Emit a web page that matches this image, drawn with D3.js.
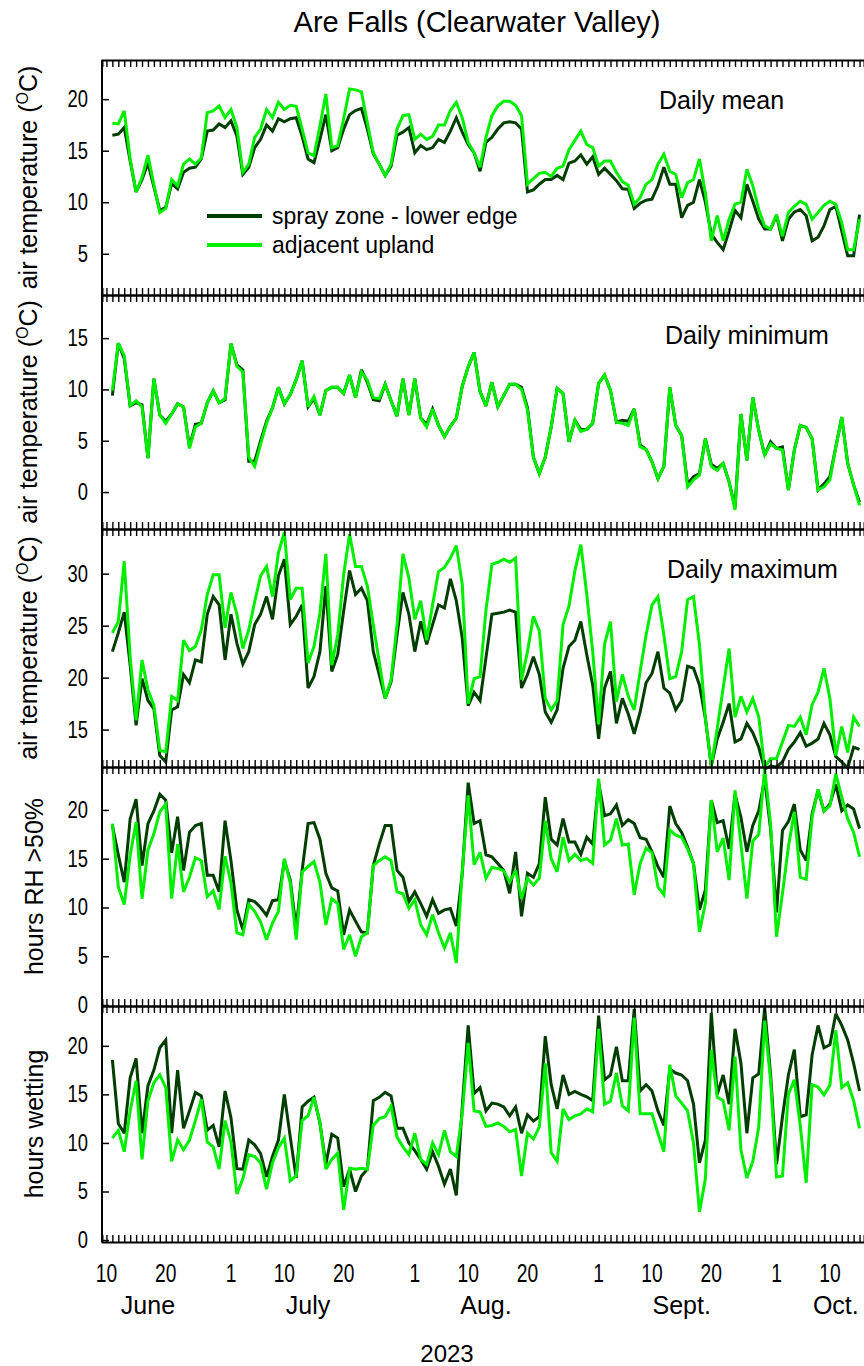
<!DOCTYPE html>
<html><head><meta charset="utf-8">
<script src="https://cdn.jsdelivr.net/npm/d3@7"></script>
<style>
body{margin:0;background:#fff}
svg{display:block}
text{font-family:"Liberation Sans",Arial,sans-serif;fill:#000}
</style>
</head><body>
<svg id="c" width="864" height="1366"></svg>
<script>
// ---------------- DATA ----------------
const firstDay = "2023-06-11";           // first daily value
const seriesNames = ["spray zone - lower edge", "adjacent upland"];

const meanSpray = [16.5,16.6,17.25,14.0,11.0,12.2,13.8,11.5,9.2,9.5,11.8,11.3,12.9,13.3,13.4,14.2,16.9,17.0,17.6,17.25,17.9,16.4,12.7,13.4,15.3,16.1,17.5,16.9,18.1,17.8,18.1,18.2,16.4,14.2,13.85,16.1,18.5,15.0,15.3,17.1,18.5,18.9,19.1,17.1,14.7,13.7,12.6,13.5,16.5,16.8,17.25,14.8,15.5,15.1,15.3,16.1,15.8,16.9,18.2,16.8,15.6,14.8,13.0,15.8,16.3,17.1,17.7,17.8,17.7,17.1,11.0,11.2,11.75,12.2,12.2,12.6,12.2,13.8,14.0,14.6,13.7,14.4,12.7,13.3,12.7,12.1,11.3,11.25,9.4,9.9,10.2,10.3,11.6,13.4,11.75,11.75,8.5,9.7,10.0,12.2,10.0,6.9,6.1,5.4,7.2,9.2,8.5,11.75,10.1,8.35,7.4,7.4,8.7,6.25,8.35,9.05,9.3,8.7,6.25,6.6,7.7,9.3,9.6,7.2,4.8,4.8,8.8];
const meanUpland = [17.67,17.6,18.87,14.2,11.0,12.4,14.56,11.7,9.0,9.4,12.2,11.6,13.7,14.2,13.7,14.3,18.7,18.87,19.35,18.2,19.0,17.25,12.9,13.7,16.3,17.1,19.0,18.2,19.7,19.0,19.4,19.3,17.1,14.8,14.5,17.4,20.5,15.3,15.5,18.1,21.0,20.9,20.7,17.7,14.8,13.7,12.6,13.7,17.1,18.4,18.5,16.1,16.6,16.1,16.4,17.5,17.5,18.9,19.7,18.2,15.8,14.8,13.4,16.3,18.4,19.35,19.8,19.8,19.4,18.4,11.75,12.3,12.8,12.9,12.5,13.3,13.5,15.1,16.0,16.9,15.6,15.3,13.5,14.0,14.0,12.9,12.0,11.65,9.8,10.45,11.75,12.2,13.7,14.65,13.0,12.7,10.45,11.9,12.2,14.2,10.9,6.25,8.7,6.25,8.35,9.8,10.0,13.2,11.6,9.3,7.7,7.4,8.8,6.7,9.0,9.6,10.1,9.8,8.35,9.0,9.7,10.1,9.8,8.0,5.4,5.4,8.35];

const minSpray = [9.4,14.5,13.0,8.4,8.7,8.5,3.3,11.05,7.5,6.9,7.6,8.6,8.3,4.4,6.6,6.7,8.7,9.85,8.7,9.0,14.45,12.4,11.9,3.0,3.0,5.0,6.9,8.2,10.2,8.6,9.5,10.95,12.8,8.3,9.1,7.5,9.9,10.2,10.2,9.6,11.4,9.2,11.9,10.7,9.0,8.9,10.5,8.9,7.4,11.05,7.5,11.05,7.2,6.6,8.1,6.5,5.4,6.4,7.2,10.3,12.2,13.6,9.8,8.4,10.7,8.3,9.4,10.5,10.5,10.2,8.2,3.4,1.8,3.4,6.35,10.1,9.6,4.9,7.0,6.1,6.1,6.7,10.6,11.4,9.9,6.8,7.0,6.9,8.1,4.6,4.15,2.95,1.3,2.5,10.2,6.5,5.5,0.8,1.5,1.8,5.2,2.7,2.3,2.8,1.0,-1.5,7.6,3.1,9.2,6.0,3.6,4.9,4.25,4.4,0.2,4.1,6.5,6.3,5.2,0.2,0.8,1.5,4.4,7.3,2.8,0.7,-1.0];
const minUpland = [9.9,14.5,13.3,8.4,8.9,8.3,3.3,11.05,7.5,6.7,7.6,8.6,8.3,4.25,6.35,6.7,8.7,9.85,8.7,9.1,14.45,12.25,11.7,3.4,2.5,4.7,6.7,8.2,10.2,8.6,9.5,10.95,12.8,8.3,9.3,7.5,9.9,10.2,10.2,9.6,11.4,9.2,11.7,10.9,9.2,9.1,10.5,8.9,7.4,11.05,7.5,11.05,7.2,6.35,8.1,6.5,5.4,6.4,7.2,10.3,12.2,13.6,9.8,8.4,10.7,8.3,9.4,10.5,10.5,10.0,8.0,3.4,1.8,3.4,6.35,10.1,9.6,4.9,7.0,5.9,6.1,6.7,10.6,11.4,9.9,6.8,6.7,6.5,8.1,4.4,4.15,2.95,1.3,2.5,10.2,6.5,5.5,0.5,1.2,1.65,5.2,2.5,2.1,2.8,1.0,-1.75,7.6,3.1,9.2,6.0,3.6,4.7,4.25,4.1,0.2,4.1,6.5,6.3,5.2,0.2,0.5,1.2,4.4,7.3,2.8,0.7,-1.3];

const maxSpray = [22.5,24.3,26.3,21.2,15.4,19.9,17.8,17.0,12.5,11.9,16.9,17.2,20.3,19.5,21.7,21.5,26.1,27.8,27.0,21.7,26.1,23.3,21.3,22.5,25.1,26.1,27.8,25.6,29.8,31.4,25.1,25.9,27.0,19.0,20.1,22.5,28.8,20.6,22.2,26.4,30.3,28.0,28.6,27.4,22.5,20.3,18.0,19.6,24.1,28.2,26.1,22.5,25.4,23.2,25.1,27.0,26.7,29.5,27.4,23.8,17.3,18.6,17.8,21.9,26.1,26.2,26.3,26.5,26.3,19.0,20.3,22.0,20.3,16.7,15.7,16.9,20.9,23.0,23.6,25.4,22.2,19.3,14.1,19.0,20.6,15.6,18.0,16.5,14.6,16.7,19.5,20.4,22.5,19.0,18.5,16.9,17.8,21.1,20.9,19.3,16.1,11.5,14.1,15.7,17.5,13.8,14.1,15.6,14.7,13.3,11.2,11.5,11.4,11.9,13.1,13.8,14.7,13.4,13.7,14.1,15.6,14.5,12.4,11.9,11.3,13.3,13.1];
const maxUpland = [24.3,25.4,31.2,22.0,15.9,21.7,18.8,17.35,13.0,12.85,18.2,17.8,23.6,22.6,23.0,24.6,28.0,29.9,29.9,24.8,28.2,26.1,22.8,24.6,27.3,29.8,30.7,27.8,32.0,34.0,27.5,28.6,28.6,21.4,23.0,26.2,31.9,21.2,24.1,29.9,33.8,30.7,30.7,28.8,25.1,21.5,18.0,19.8,25.1,31.9,29.6,25.6,27.4,23.6,27.0,30.2,30.6,31.5,32.7,29.0,17.5,19.9,20.1,26.5,30.9,31.1,31.4,31.1,31.5,19.8,22.5,25.9,24.5,18.0,16.9,17.8,25.1,26.9,30.3,32.8,28.0,22.5,15.5,23.2,25.4,17.7,20.3,18.2,16.9,20.6,24.1,27.0,27.8,24.1,19.9,20.1,22.5,27.5,27.8,23.2,16.1,11.5,15.1,19.0,22.8,16.2,18.2,16.7,18.0,16.2,11.4,12.2,12.2,13.8,15.4,15.3,16.2,14.5,17.4,18.6,20.9,18.0,12.5,15.3,12.8,16.2,15.3];

const rhSpray = [18.4,15.4,12.6,19.1,21.1,14.3,18.6,19.9,21.6,21.0,15.6,19.3,13.8,17.7,18.4,18.6,13.3,13.3,11.6,18.9,14.8,9.75,7.7,10.8,10.6,10.0,9.2,10.7,10.8,14.8,12.8,7.8,13.8,18.6,18.7,17.0,13.5,12.0,11.7,7.2,9.75,8.6,7.5,7.4,14.3,16.5,18.4,18.4,13.8,13.1,10.6,11.6,10.4,9.1,10.8,9.4,9.75,9.9,8.1,13.5,22.8,18.6,18.9,15.4,15.2,14.5,13.8,11.45,15.7,9.1,13.5,13.1,14.5,21.3,17.0,16.4,19.1,16.7,16.7,15.45,17.2,16.5,22.8,19.4,19.6,20.5,18.4,19.0,18.6,17.15,17.0,15.7,14.2,13.1,20.4,18.6,17.7,16.2,14.5,9.75,11.8,21.0,18.7,18.9,16.0,21.6,19.25,15.7,18.4,19.9,23.2,18.0,9.5,17.9,18.8,20.6,15.9,14.8,19.6,22.0,19.9,20.6,22.6,19.9,20.5,20.1,18.1];
const rhUpland = [18.6,12.1,10.3,15.35,18.75,10.9,15.9,17.55,19.8,20.6,10.9,16.5,11.6,13.1,15.1,14.8,11.1,11.7,9.8,15.25,12.5,7.4,7.2,10.3,9.6,8.5,6.7,8.4,9.6,15.0,12.5,6.7,13.65,14.2,14.7,12.6,8.2,10.9,10.4,5.7,7.2,5.0,7.0,7.4,14.3,14.8,15.2,14.8,11.6,11.4,9.9,10.8,8.2,7.2,9.25,7.4,5.85,7.4,4.3,13.65,21.5,14.4,15.65,13.0,14.1,14.0,13.75,12.6,13.8,10.9,13.0,12.3,13.0,18.9,15.0,13.65,17.2,14.8,15.45,14.8,15.0,14.5,23.2,16.4,16.9,19.1,16.4,16.5,11.3,14.5,16.1,15.6,12.1,11.3,17.95,17.4,17.2,16.0,14.5,7.5,10.4,21.0,15.7,17.1,12.8,22.0,16.5,10.9,16.8,17.5,24.2,18.5,7.0,11.45,16.2,19.8,13.1,12.9,19.25,22.1,19.9,20.4,23.7,21.3,19.1,17.7,15.2];

const wetSpray = [18.55,12.0,11.0,16.7,18.7,11.0,15.9,17.5,19.8,20.6,11.0,17.5,11.5,13.3,15.2,14.85,11.3,11.8,9.6,15.35,12.6,7.35,7.3,10.3,9.8,8.9,6.5,8.6,10.3,15.0,10.6,6.4,13.7,14.3,14.7,12.05,7.8,10.9,10.5,5.5,7.3,5.0,6.6,7.3,14.35,14.7,15.2,14.85,11.5,11.5,10.0,9.2,8.3,7.3,9.1,7.6,5.75,7.3,4.6,13.7,22.1,15.1,15.7,13.3,14.1,14.0,13.7,12.8,13.7,11.0,12.9,12.25,12.7,21.0,16.0,13.5,17.0,15.0,15.3,15.0,14.75,14.35,23.1,16.5,17.0,19.9,16.4,16.4,23.8,15.35,16.0,15.35,13.3,11.8,17.6,17.2,17.0,16.4,14.0,7.95,10.3,23.4,15.0,17.0,14.0,21.75,18.2,11.0,16.7,17.1,23.9,17.0,7.8,12.7,17.0,19.6,12.7,12.9,19.05,22.1,19.8,20.1,23.3,22.1,20.6,18.2,15.35];
const wetUpland = [10.5,11.3,9.1,13.3,16.4,8.3,14.35,16.2,17.0,15.7,8.1,10.3,9.3,10.3,12.3,14.5,10.1,9.6,7.3,12.3,10.1,4.75,6.3,8.8,8.6,7.95,5.25,7.95,9.5,10.5,6.1,6.6,12.3,12.8,14.7,12.15,7.3,8.3,8.95,3.1,7.4,7.3,7.4,7.3,11.8,12.5,12.7,13.8,10.6,9.6,8.8,11.0,8.3,7.8,10.0,8.8,11.3,9.1,8.6,13.0,20.3,13.3,13.2,11.7,11.8,12.05,11.7,11.15,11.4,6.6,11.0,10.4,11.65,18.2,9.0,8.1,13.5,12.4,12.8,13.0,13.5,13.2,21.75,14.0,14.3,17.2,13.8,13.3,22.9,13.0,13.0,13.0,11.0,9.1,18.05,14.85,14.1,13.3,10.0,2.9,6.3,19.6,14.7,14.35,11.3,18.9,9.3,6.4,8.1,11.65,22.6,16.4,6.5,6.6,15.0,16.5,11.8,5.9,16.0,15.75,14.95,15.95,21.6,15.7,16.2,14.35,11.5];

const yTicksMean = [5,10,15,20];
const yTicksMin  = [0,5,10,15];
const yTicksMax  = [15,20,25,30];
const yTicksRH   = [0,5,10,15,20];
const yTicksWet  = [0,5,10,15,20];

const xTickDates  = ["2023-06-10","2023-06-20","2023-07-01","2023-07-10","2023-07-20","2023-08-01","2023-08-10","2023-08-20","2023-09-01","2023-09-10","2023-09-20","2023-10-01","2023-10-10"];
const xTickLabels = ["10","20","1","10","20","1","10","20","1","10","20","1","10"];
const monthLabels = ["June","July","Aug.","Sept.","Oct."];
const monthLabelDates = ["2023-06-17","2023-07-14","2023-08-13","2023-09-15","2023-10-11"];
const yearLabel = "2023";
const panelLabels = ["Daily mean","Daily minimum","Daily maximum","",""];
const title = "Are Falls (Clearwater Valley)";

// ---------------- LAYOUT ----------------
const parse = d3.utcParse("%Y-%m-%d");
const colors = ["#003d00", "#00ee00"];
const left = 102, right = 864;
const x = d3.scaleUtc()
  .domain([new Date(Date.UTC(2023,5,9,6)), new Date(Date.UTC(2023,9,15,18))])
  .range([left, right]);
const start = parse(firstDay);
const dates = meanSpray.map((_, i) => d3.utcDay.offset(start, i));
const panelLabelX = [659, 665, 667];

const panels = [
  {top:60,  bottom:295,  domain:[1.0,23.8],  ticks:yTicksMean, s:[meanSpray,meanUpland], label:"temp"},
  {top:295, bottom:529,  domain:[-3.6,19.2], ticks:yTicksMin,  s:[minSpray,minUpland],   label:"temp"},
  {top:529, bottom:767,  domain:[11.4,34.3], ticks:yTicksMax,  s:[maxSpray,maxUpland],   label:"temp"},
  {top:767, bottom:1006, domain:[-0.1,24.4], ticks:yTicksRH,   s:[rhSpray,rhUpland],     label:"hours RH >50%"},
  {top:1006,bottom:1242, domain:[-0.2,24.1], ticks:yTicksWet,  s:[wetSpray,wetUpland],   label:"hours wetting"}
];

const svg = d3.select("#c");
svg.append("rect").attr("width",864).attr("height",1366).attr("fill","#fff");

svg.append("text").attr("x",477).attr("y",32).attr("text-anchor","middle")
  .attr("font-size",29).text(title);

const dayTicks = d3.utcDay.range(parse("2023-06-10"), new Date(Date.UTC(2023,9,16)));

// condensed number label helper
function numLabel(parent, px, py, txt, size, sx, anchor) {
  parent.append("g").attr("transform",`translate(${px},${py}) scale(${sx},1)`)
    .append("text").attr("text-anchor",anchor).attr("font-size",size).text(txt);
}

panels.forEach((p, pi) => {
  const y = d3.scaleLinear().domain(p.domain).range([p.bottom, p.top]);
  const g = svg.append("g");

  p.s.forEach((vals, si) => {
    const line = d3.line().x((d,i) => x(dates[i])).y(d => y(d));
    g.append("path").datum(vals).attr("d", line)
      .attr("fill","none").attr("stroke",colors[si]).attr("stroke-width",3)
      .attr("stroke-linejoin","miter").attr("stroke-miterlimit",3);
  });

  const topAxis = d3.axisBottom(x).tickValues(dayTicks).tickSize(7).tickFormat("");
  const botAxis = d3.axisTop(x).tickValues(dayTicks).tickSize(7).tickFormat("");
  const gt = g.append("g").attr("transform",`translate(0,${p.top})`).call(topAxis);
  const gb = g.append("g").attr("transform",`translate(0,${p.bottom})`).call(botAxis);
  [gt,gb].forEach(a => {
    a.select(".domain").attr("stroke","#000").attr("stroke-width",2);
    a.selectAll(".tick line").attr("stroke","#000").attr("stroke-width",1.4);
  });

  const ya = d3.axisRight(y).tickValues(p.ticks).tickSize(7).tickFormat("");
  const gy = g.append("g").attr("transform",`translate(${left},0)`).call(ya);
  gy.select(".domain").remove();
  gy.selectAll(".tick line").attr("stroke","#000").attr("stroke-width",1.5);
  p.ticks.forEach(t => numLabel(g, 88, y(t) + 8, t, 23, 0.8, "end"));
  g.append("line").attr("x1",left).attr("x2",left).attr("y1",p.top).attr("y2",p.bottom)
    .attr("stroke","#000").attr("stroke-width",2);

  const cy = (p.top + p.bottom)/2;
  if (p.label === "temp") {
    const t = g.append("text").attr("transform",`translate(37,${cy}) rotate(-90)`)
      .attr("text-anchor","middle").attr("font-size",25);
    t.append("tspan").text("air temperature (");
    t.append("tspan").attr("font-size",16).attr("dy",-9).text("O");
    t.append("tspan").attr("dy",9).text("C)");
  } else {
    g.append("text").attr("transform",`translate(43,${cy}) rotate(-90)`)
      .attr("text-anchor","middle").attr("font-size",25).text(p.label);
  }

  if (panelLabels[pi]) {
    g.append("text").attr("x",panelLabelX[pi]).attr("y",p.top+49).attr("font-size",25).text(panelLabels[pi]);
  }
});

// legend
const lg = svg.append("g");
[0,1].forEach(i => {
  const ly = 216 + i*29;
  lg.append("line").attr("x1",207).attr("x2",262).attr("y1",ly).attr("y2",ly)
    .attr("stroke",colors[i]).attr("stroke-width",4);
  lg.append("text").attr("x",272).attr("y",ly).attr("dy","0.36em").attr("font-size",23).text(seriesNames[i]);
});

// bottom labels
xTickDates.forEach((d,i) => numLabel(svg, x(parse(d)), 1282, xTickLabels[i], 26, 0.74, "middle"));
monthLabels.forEach((m,i) => {
  svg.append("text").attr("x",x(parse(monthLabelDates[i]))).attr("y",1314).attr("text-anchor","middle")
    .attr("font-size",25).text(m);
});
svg.append("text").attr("x",447).attr("y",1362).attr("text-anchor","middle").attr("font-size",24).text(yearLabel);
</script>
</body></html>
